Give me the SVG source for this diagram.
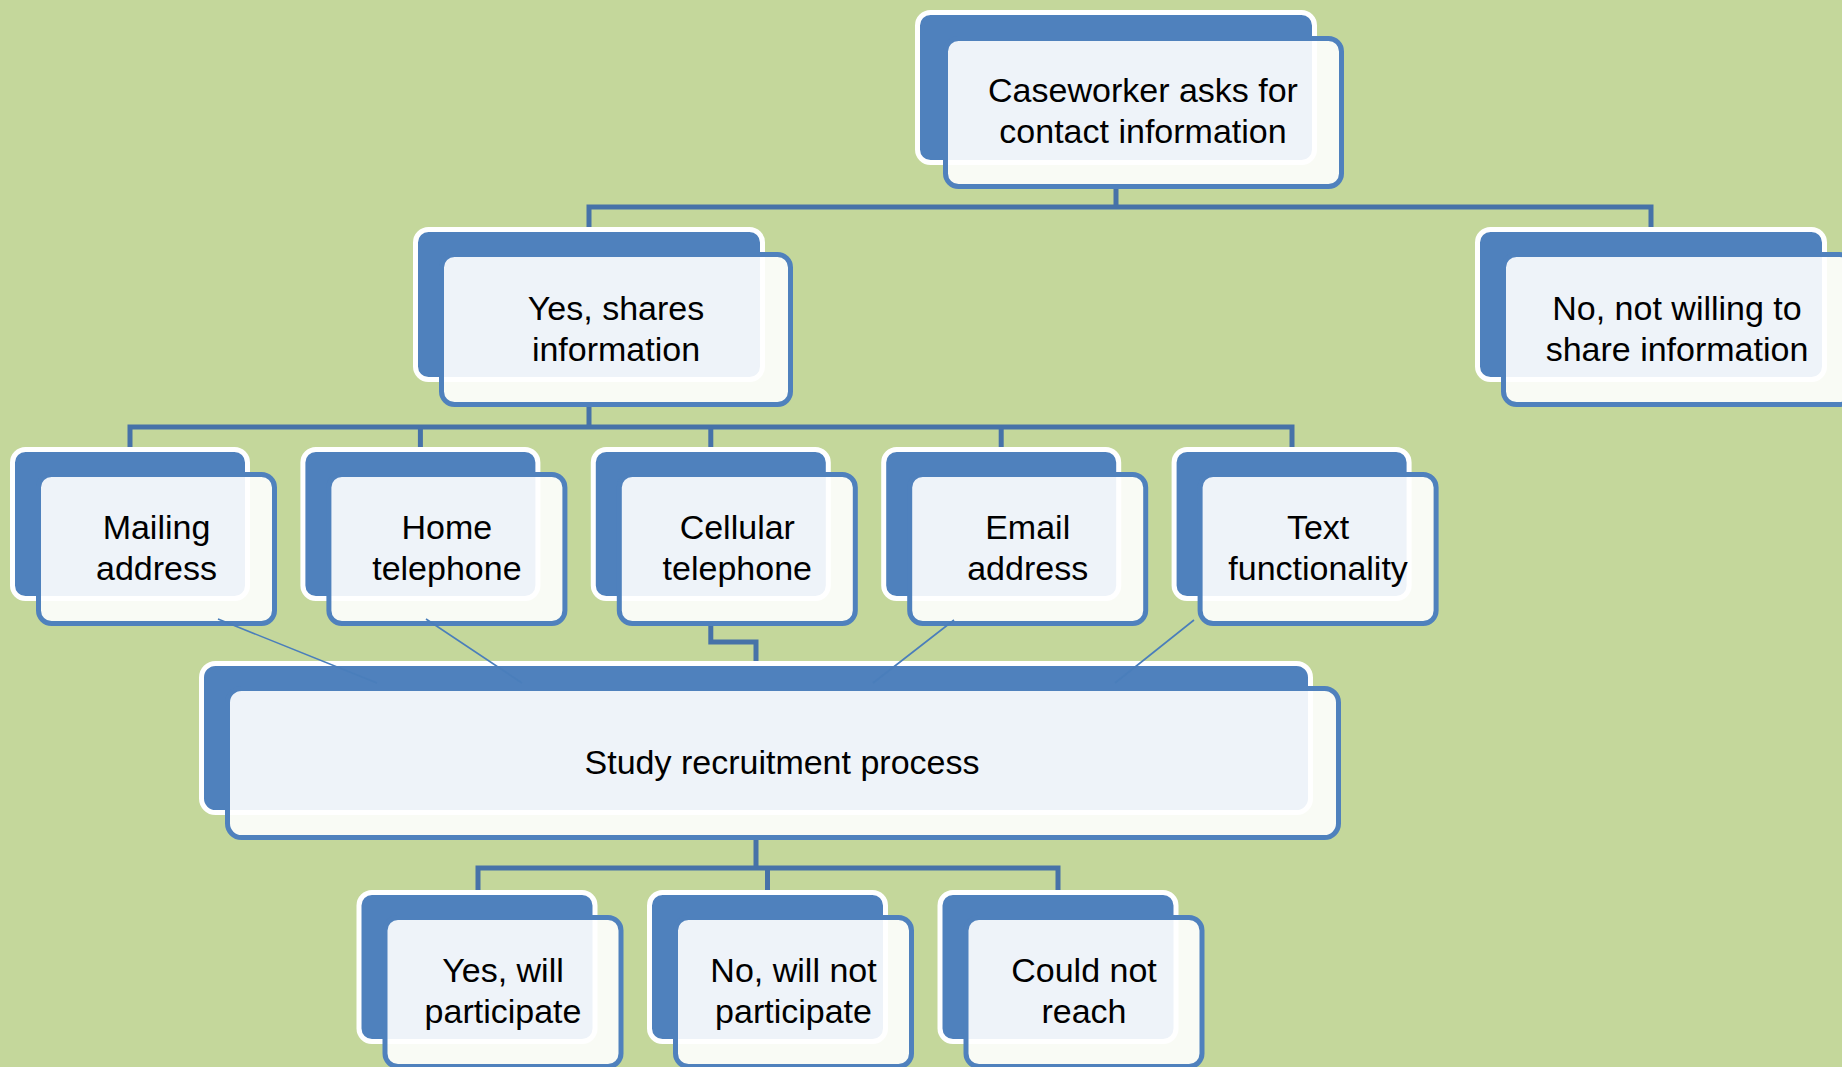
<svg xmlns="http://www.w3.org/2000/svg" width="1842" height="1067" viewBox="0 0 1842 1067">
<style>
.bk{fill:#4f81bd;stroke:#ffffff;stroke-width:5}
.fr{fill:#ffffff;fill-opacity:0.9;stroke:#4f81bd;stroke-width:5}
.t{font-family:"Liberation Sans",Arial,sans-serif;font-size:34px;fill:#000000;text-anchor:middle}
.c{fill:none;stroke:#4672a8;stroke-width:5}
.d{fill:none;stroke:#4a7ebb;stroke-width:1.6}
</style>
<rect x="0" y="0" width="1842" height="1067" fill="#c4d79b"/>
<g id="n-top">
<rect class="bk" x="917.5" y="12.5" width="397" height="150" rx="13"/>
<rect class="fr" x="945.5" y="38.5" width="396" height="148" rx="13"/>
<text class="t" x="1143" y="102">Caseworker asks for</text>
<text class="t" x="1143" y="143">contact information</text>
</g>
<g id="n-yes">
<rect class="bk" x="415.5" y="229.5" width="347" height="150" rx="13"/>
<rect class="fr" x="441.5" y="254.5" width="349" height="150" rx="13"/>
<text class="t" x="616" y="320">Yes, shares</text>
<text class="t" x="616" y="361">information</text>
</g>
<g id="n-no">
<rect class="bk" x="1477.5" y="229.5" width="347" height="150" rx="13"/>
<rect class="fr" x="1503.5" y="254.5" width="349" height="150" rx="13"/>
<text class="t" x="1677" y="320">No, not willing to</text>
<text class="t" x="1677" y="361">share information</text>
</g>
<g id="n-mail">
<rect class="bk" x="12.5" y="449.5" width="235" height="149" rx="13"/>
<rect class="fr" x="38.5" y="474.5" width="236" height="149" rx="13"/>
<text class="t" x="156.5" y="539">Mailing</text>
<text class="t" x="156.5" y="580">address</text>
</g>
<g id="n-home">
<rect class="bk" x="302.9" y="449.5" width="235" height="149" rx="13"/>
<rect class="fr" x="328.9" y="474.5" width="236" height="149" rx="13"/>
<text class="t" x="446.9" y="539">Home</text>
<text class="t" x="446.9" y="580">telephone</text>
</g>
<g id="n-cell">
<rect class="bk" x="593.3" y="449.5" width="235" height="149" rx="13"/>
<rect class="fr" x="619.3" y="474.5" width="236" height="149" rx="13"/>
<text class="t" x="737.3" y="539">Cellular</text>
<text class="t" x="737.3" y="580">telephone</text>
</g>
<g id="n-email">
<rect class="bk" x="883.7" y="449.5" width="235" height="149" rx="13"/>
<rect class="fr" x="909.7" y="474.5" width="236" height="149" rx="13"/>
<text class="t" x="1027.7" y="539">Email</text>
<text class="t" x="1027.7" y="580">address</text>
</g>
<g id="n-text">
<rect class="bk" x="1174.1" y="449.5" width="235" height="149" rx="13"/>
<rect class="fr" x="1200.1" y="474.5" width="236" height="149" rx="13"/>
<text class="t" x="1318.1" y="539">Text</text>
<text class="t" x="1318.1" y="580">functionality</text>
</g>
<g id="n-study">
<rect class="bk" x="201.5" y="663.5" width="1109" height="149" rx="14"/>
<rect class="fr" x="227.5" y="688.5" width="1111" height="149" rx="14"/>
<text class="t" x="782" y="774">Study recruitment process</text>
</g>
<g id="n-will">
<rect class="bk" x="359" y="892.5" width="236" height="149" rx="13"/>
<rect class="fr" x="385" y="917.5" width="236" height="149" rx="13"/>
<text class="t" x="503" y="982">Yes, will</text>
<text class="t" x="503" y="1023">participate</text>
</g>
<g id="n-willnot">
<rect class="bk" x="649.5" y="892.5" width="236" height="149" rx="13"/>
<rect class="fr" x="675.5" y="917.5" width="236" height="149" rx="13"/>
<text class="t" x="793.5" y="982">No, will not</text>
<text class="t" x="793.5" y="1023">participate</text>
</g>
<g id="n-reach">
<rect class="bk" x="940" y="892.5" width="236" height="149" rx="13"/>
<rect class="fr" x="966" y="917.5" width="236" height="149" rx="13"/>
<text class="t" x="1084" y="982">Could not</text>
<text class="t" x="1084" y="1023">reach</text>
</g>
<g id="connectors">
<path class="c" d="M1116 189V207M589 227V207H1651V227"/>
<path class="c" d="M589 407V427M130 447V427H1292V447M420.4 427V447M710.8 427V447M1001.2 427V447"/>
<path class="c" d="M710.8 626V642H756V661"/>
<path class="c" d="M756 840V868M478 890V868H1058V890M767.5 868V890"/>
<path class="d" d="M218 619L377 683M426 619L522 683M954 620L873 683M1194 620L1115 683"/>
</g>
</svg>
